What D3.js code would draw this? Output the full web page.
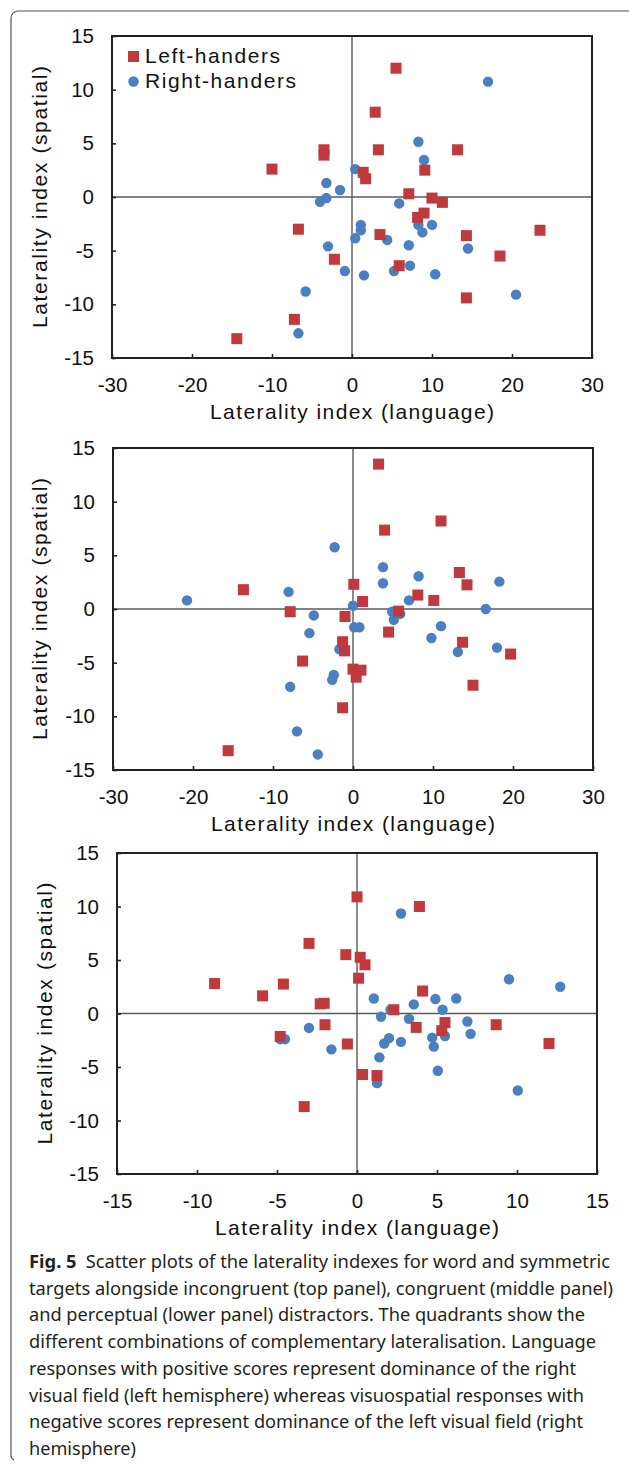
<!DOCTYPE html>
<html>
<head>
<meta charset="utf-8">
<script src="https://cdn.jsdelivr.net/npm/d3@7"></script>
<style>
  html, body { margin: 0; padding: 0; background: #fff; }
  svg text { font-family: "Liberation Sans", Arimo, Arial, sans-serif; fill: #111; }
  svg text.cap { font-family: "Noto Sans", sans-serif; fill: #231f20; }
</style>
</head>
<body>
<div id="page"></div>
<script>
(function() {

  "use strict";

  // top panel: incongruent distractors
  var top_left = [
    [-10, 2.6], [-3.5, 4.4], [-3.5, 3.9], [-6.7, -3.0], [-2.2, -5.8], [-7.2, -11.4],
    [-14.4, -13.2], [5.5, 12.0], [2.9, 7.9], [3.3, 4.4], [13.2, 4.4], [9.1, 2.5],
    [1.4, 2.3], [1.7, 1.7], [7.1, 0.3], [10.0, -0.1], [11.3, -0.5], [9.0, -1.5],
    [8.2, -1.9], [3.5, -3.5], [14.3, -3.6], [23.5, -3.1], [18.5, -5.5], [5.9, -6.4],
    [14.3, -9.4]
  ];
  var top_right = [
    [0.4, 2.6], [-3.2, 1.3], [-1.5, 0.65], [-4.0, -0.45], [-3.2, -0.1], [0.4, -3.85],
    [-3.0, -4.6], [-0.9, -6.9], [-5.8, -8.8], [-6.7, -12.7], [17.0, 10.75], [8.3, 5.15],
    [9.0, 3.45], [5.9, -0.6], [8.3, -2.6], [10.0, -2.6], [8.8, -3.3], [1.1, -2.6],
    [1.1, -3.1], [4.4, -4.0], [7.1, -4.5], [14.5, -4.8], [1.5, -7.3], [5.25, -6.9],
    [7.25, -6.4], [10.4, -7.2], [20.5, -9.1]
  ];

  // middle panel: congruent distractors
  var mid_left = [
    [-13.7, 1.8], [0.1, 2.3], [1.2, 0.7], [-7.85, -0.25], [-1.0, -0.7], [-1.3, -3.05],
    [-1.05, -3.9], [-6.3, -4.85], [0, -5.6], [1.0, -5.7], [0.4, -6.35], [-1.3, -9.2],
    [-15.6, -13.2], [3.2, 13.5], [11.0, 8.2], [3.95, 7.35], [13.3, 3.4], [14.25, 2.25],
    [8.1, 1.3], [10.1, 0.8], [5.7, -0.2], [4.45, -2.15], [13.7, -3.1], [19.7, -4.2],
    [15.0, -7.1]
  ];
  var mid_right = [
    [-2.3, 5.75], [-8.05, 1.6], [-20.75, 0.8], [0, 0.3], [-4.9, -0.6], [0.15, -1.7],
    [0.8, -1.7], [-5.45, -2.25], [-1.7, -3.75], [-2.4, -6.15], [-2.6, -6.6], [-7.85, -7.25],
    [-7.0, -11.4], [-4.4, -13.55], [3.75, 3.9], [3.75, 2.4], [8.2, 3.05], [18.3, 2.55],
    [7.0, 0.8], [16.6, 0], [4.9, -0.25], [5.9, -0.45], [5.1, -1.0], [11.0, -1.6],
    [9.8, -2.7], [13.1, -4.0], [18.0, -3.6]
  ];

  // lower panel: perceptual distractors
  var low_left = [
    [0, 10.9], [-3.0, 6.55], [-0.7, 5.5], [-8.9, 2.8], [-4.6, 2.75], [-5.9, 1.65],
    [-2.3, 0.9], [-2.05, 0.95], [-2.0, -1.05], [-4.8, -2.15], [-0.6, -2.85], [-3.3, -8.7],
    [0.35, -5.7], [1.25, -5.8], [3.9, 10.0], [0.2, 5.25], [0.5, 4.55], [0.1, 3.3],
    [4.1, 2.1], [2.3, 0.35], [5.5, -0.85], [3.7, -1.3], [8.7, -1.05], [5.3, -1.6],
    [12.0, -2.8]
  ];
  var low_right = [
    [-3.0, -1.35], [-4.8, -2.4], [-4.5, -2.4], [-1.6, -3.35], [2.75, 9.35], [9.5, 3.2],
    [12.7, 2.5], [1.05, 1.4], [4.9, 1.35], [6.2, 1.4], [3.55, 0.85], [5.35, 0.35],
    [2.1, 0.35], [1.5, -0.3], [3.25, -0.5], [6.9, -0.75], [5.5, -2.1], [7.1, -1.9],
    [4.7, -2.25], [4.8, -3.1], [2.0, -2.3], [1.7, -2.8], [2.75, -2.65], [1.4, -4.1],
    [5.05, -5.35], [1.25, -6.5], [10.05, -7.2]
  ];

  var x_ticks_wide = [-30, -20, -10, 0, 10, 20, 30],
    x_ticks_narrow = [-15, -10, -5, 0, 5, 10, 15],
    y_ticks = [-15, -10, -5, 0, 5, 10, 15];

  var series_names = ["Left-handers", "Right-handers"],
    x_title = "Laterality index (language)",
    y_title = "Laterality index (spatial)";

  var caption_lines = [
    "Scatter plots of the laterality indexes for word and symmetric",
    "targets alongside incongruent (top panel), congruent (middle panel)",
    "and perceptual (lower panel) distractors. The quadrants show the",
    "different combinations of complementary lateralisation. Language",
    "responses with positive scores represent dominance of the right",
    "visual field (left hemisphere) whereas visuospatial responses with",
    "negative scores represent dominance of the left visual field (right",
    "hemisphere)"
  ];

  /* * * * * * * * * * * * * * * * * * * */

  var RED = "#c0393d",
    BLUE = "#4a7fc1",
    FONT = "'Liberation Sans', Arimo, Arial, sans-serif";

  var panels = [
    { left: 112, top: 36, right: 592, bottom: 358, xdom: [-30, 30], xt: x_ticks_wide,
      ytx: 47, red: top_left, blue: top_right, legend: true },
    { left: 113, top: 448, right: 593, bottom: 770, xdom: [-30, 30], xt: x_ticks_wide,
      ytx: 47, red: mid_left, blue: mid_right },
    { left: 117, top: 853, right: 597, bottom: 1174, xdom: [-15, 15], xt: x_ticks_narrow,
      ytx: 52, red: low_left, blue: low_right }
  ];

  var svg = d3.select("#page").append("svg")
    .attr("width", 629)
    .attr("height", 1464);

  // page frame of the figure
  svg.append("path")
    .attr("d", "M629,11 H18 A7,7 0 0 0 11,18 V1454 A6,6 0 0 0 14,1460")
    .attr("fill", "none")
    .attr("stroke", "#555")
    .attr("stroke-width", 1.2);

  // plain hyphen for negatives, as in the original
  function fmt(d) { return String(d); }

  function draw_panel(p) {

    var x = d3.scaleLinear().domain(p.xdom).range([p.left, p.right]),
      y = d3.scaleLinear().domain([-15, 15]).range([p.bottom, p.top]);

    var g = svg.append("g");

    // quadrant lines
    g.append("line")
      .attr("x1", x(0)).attr("x2", x(0))
      .attr("y1", p.top).attr("y2", p.bottom)
      .attr("stroke", "#5a5a5a").attr("stroke-width", 1.4);
    g.append("line")
      .attr("x1", p.left).attr("x2", p.right)
      .attr("y1", y(0)).attr("y2", y(0))
      .attr("stroke", "#5a5a5a").attr("stroke-width", 1.4);

    var xa = g.append("g")
      .attr("transform", "translate(0," + p.bottom + ")")
      .call(d3.axisBottom(x).tickValues(p.xt).tickFormat(fmt).tickSize(-4).tickPadding(19));
    var ya = g.append("g")
      .attr("transform", "translate(" + p.left + ",0)")
      .call(d3.axisLeft(y).tickValues(y_ticks).tickFormat(fmt).tickSize(-4).tickPadding(18));

    [xa, ya].forEach(function(a) {
      a.select(".domain").remove();
      a.selectAll(".tick line").attr("stroke", "#222").attr("stroke-width", 1.6);
      a.selectAll(".tick text")
        .attr("fill", "#111")
        .style("font-size", "20.5px")
        .style("font-family", FONT);
    });

    // plot frame
    g.append("rect")
      .attr("x", p.left).attr("y", p.top)
      .attr("width", p.right - p.left).attr("height", p.bottom - p.top)
      .attr("fill", "none")
      .attr("stroke", "#222").attr("stroke-width", 2);

    // axis titles
    g.append("text")
      .attr("x", (p.left + p.right) / 2)
      .attr("y", p.bottom + 61)
      .attr("text-anchor", "middle")
      .attr("textLength", 284)
      .attr("lengthAdjust", "spacing")
      .style("font-size", "21px")
      .style("font-family", FONT)
      .text(x_title);

    g.append("text")
      .attr("transform", "translate(" + p.ytx + "," + ((p.top + p.bottom) / 2) + ") rotate(-90)")
      .attr("text-anchor", "middle")
      .attr("textLength", 262)
      .attr("lengthAdjust", "spacing")
      .style("font-size", "21px")
      .style("font-family", FONT)
      .text(y_title);

    // right-handers first, left-handers drawn over them
    g.selectAll(".dot")
      .data(p.blue)
      .enter().append("circle")
      .attr("class", "dot")
      .attr("cx", function(d) { return x(d[0]); })
      .attr("cy", function(d) { return y(d[1]); })
      .attr("r", 5.2)
      .attr("fill", BLUE);

    g.selectAll(".sq")
      .data(p.red)
      .enter().append("rect")
      .attr("class", "sq")
      .attr("x", function(d) { return x(d[0]) - 5.5; })
      .attr("y", function(d) { return y(d[1]) - 5.5; })
      .attr("width", 11)
      .attr("height", 11)
      .attr("fill", RED);

    if (p.legend) {
      var lg = g.append("g");
      lg.append("rect")
        .attr("x", 128).attr("y", 51).attr("width", 11).attr("height", 11)
        .attr("fill", RED);
      lg.append("circle")
        .attr("cx", 133.5).attr("cy", 81.5).attr("r", 5.2)
        .attr("fill", BLUE);
      lg.append("text")
        .attr("x", 145).attr("y", 63)
        .attr("textLength", 135).attr("lengthAdjust", "spacing")
        .style("font-size", "21px")
        .style("font-family", FONT)
        .text(series_names[0]);
      lg.append("text")
        .attr("x", 145).attr("y", 88)
        .attr("textLength", 151).attr("lengthAdjust", "spacing")
        .style("font-size", "21px")
        .style("font-family", FONT)
        .text(series_names[1]);
    }
  }

  panels.forEach(draw_panel);

  /* * * * * * * * * * * * * * * * * * * */

  // caption
  var cap_widths = [581, 584, 556, 567, 547, 555, 554, 107],
    cap_x = 29,
    cap_y0 = 1268,
    cap_step = 26.7;

  caption_lines.forEach(function(line, i) {
    var t = svg.append("text")
      .attr("class", "cap")
      .attr("x", cap_x)
      .attr("y", cap_y0 + i * cap_step)
      .attr("textLength", cap_widths[i])
      .attr("lengthAdjust", "spacingAndGlyphs")
      .style("font-size", "18.5px");
    if (i === 0) {
      t.append("tspan").style("font-weight", "bold").text("Fig. 5");
      t.append("tspan").text("\u2002" + line);
    } else {
      t.text(line);
    }
  });

})();
</script>
</body>
</html>
